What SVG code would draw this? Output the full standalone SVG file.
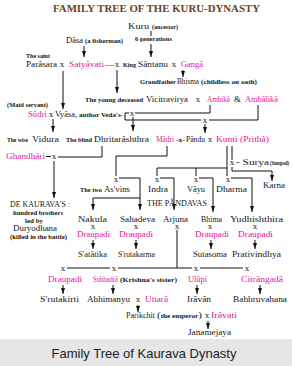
<svg xmlns="http://www.w3.org/2000/svg" width="292" height="366" viewBox="0 0 292 366">
<style>
text{font-family:"Liberation Serif","Times New Roman",serif;fill:#151515}
.n{font-size:9px}
.s{font-size:5.8px;font-weight:bold}
.p{fill:#e0169a}
.x{font-size:9px;text-anchor:middle}
.t{font-size:11px;font-weight:bold;fill:#6e3d1d}
.f{font-family:"Liberation Sans",Arial,sans-serif;font-size:13px;fill:#222;text-anchor:middle}
#edges line,#edges path{stroke:#111;stroke-width:1;fill:none}
.a{marker-end:url(#ah)}
</style>
<defs>
<marker id="ah" viewBox="0 0 6 4" refX="6" refY="2" markerWidth="6" markerHeight="4.5" markerUnits="userSpaceOnUse" orient="auto"><path d="M0,0L6,2L0,4z" fill="#111"/></marker>
</defs>
<rect width="292" height="366" fill="#fff"/>
<text class="t" x="53" y="12" textLength="207" lengthAdjust="spacingAndGlyphs">FAMILY TREE OF THE KURU-DYNASTY</text>

<g id="edges">
<line x1="151" y1="31" x2="151" y2="36"/>
<line class="a" x1="151" y1="44" x2="151" y2="57"/>
<line class="a" x1="84" y1="46" x2="84" y2="57"/>
<line class="a" x1="183" y1="70" x2="183" y2="77"/>
<line class="a" x1="117" y1="70" x2="117" y2="93"/>
<line class="a" x1="63" y1="71" x2="63" y2="109"/>
<path d="M210,105V113H135"/>
<path d="M129,113H125V120H201"/>
<path d="M209,120H258V105"/>
<line class="a" x1="133" y1="117" x2="133" y2="131"/>
<line class="a" x1="205" y1="124" x2="205" y2="133"/>
<line class="a" x1="53" y1="119" x2="53" y2="132"/>
<line x1="46" y1="156.5" x2="51" y2="156.5"/>
<path d="M58,157H102V146"/>
<line class="a" x1="54" y1="161" x2="54" y2="198"/>
<path d="M167,146V156H116V176"/>
<path d="M227,146V176"/>
<path d="M227,168H157V176"/>
<line x1="196" y1="168" x2="196" y2="176"/>
<line x1="232" y1="146" x2="232" y2="160"/>
<path class="a" d="M232,167V171H272V181"/>
<path class="a" d="M160,178H174V210"/>
<path class="a" d="M199,178H213V212"/>
<path class="a" d="M231,178H252V212"/>
<path class="a" d="M119,178H140V210"/>
<path class="a" d="M140,198H93V210"/>
<line class="a" x1="93" y1="240" x2="93" y2="249"/>
<line class="a" x1="136" y1="240" x2="136" y2="249"/>
<line class="a" x1="211" y1="240" x2="211" y2="249"/>
<line class="a" x1="255" y1="240" x2="255" y2="249"/>
<line x1="177" y1="230" x2="177" y2="268"/>
<path d="M67,268H110M118,268H192M200,268H243"/>
<line class="a" x1="63" y1="285" x2="63" y2="294"/>
<line class="a" x1="113" y1="285" x2="113" y2="294"/>
<line class="a" x1="197" y1="285" x2="197" y2="294"/>
<line class="a" x1="260" y1="285" x2="260" y2="294"/>
<line class="a" x1="138" y1="305" x2="138" y2="312"/>
<line class="a" x1="208" y1="321" x2="208" y2="329"/>
</g>

<g id="kuru"><text class="n" x="128" y="29" textLength="21" lengthAdjust="spacingAndGlyphs">Kuru</text><text class="s" x="152" y="29" textLength="26" lengthAdjust="spacingAndGlyphs">(ancestor)</text><text class="s" x="135" y="41" textLength="37" lengthAdjust="spacingAndGlyphs">6 generations</text></g>
<g id="dasa"><text class="n" x="66" y="43" textLength="17" lengthAdjust="spacingAndGlyphs">Dâsa</text><text class="s" x="85" y="43" textLength="38" lengthAdjust="spacingAndGlyphs">(a fisherman)</text></g>
<g id="parasara"><text class="s" x="26" y="58" textLength="24" lengthAdjust="spacingAndGlyphs">The saint</text><text class="n" x="26" y="67" textLength="31" lengthAdjust="spacingAndGlyphs">Parâsara</text><text class="x" x="62" y="67">x</text></g>
<g id="satyavati"><text class="n p" x="69" y="67" textLength="35" lengthAdjust="spacingAndGlyphs">Satyâvati</text><text class="s" x="105" y="67" textLength="9" lengthAdjust="spacingAndGlyphs">----</text><text class="x" x="117" y="67">x</text></g>
<g id="santanu"><text class="s" x="123" y="67" textLength="13" lengthAdjust="spacingAndGlyphs">King</text><text class="n" x="138" y="67" textLength="30" lengthAdjust="spacingAndGlyphs">Sântanu</text><text class="x" x="174" y="67">x</text></g>
<g id="ganga"><text class="n p" x="181" y="67" textLength="22" lengthAdjust="spacingAndGlyphs">Gangâ</text></g>
<g id="bhisma"><text class="s" x="140" y="84" textLength="36" lengthAdjust="spacingAndGlyphs">Grandfather</text><text class="n" x="177" y="84" textLength="22" lengthAdjust="spacingAndGlyphs">Bhisma</text><text class="s" x="201" y="84" textLength="56" lengthAdjust="spacingAndGlyphs">(childless on oath)</text></g>
<g id="vicitravirya"><text class="s" x="85" y="102" textLength="58" lengthAdjust="spacingAndGlyphs">The young deceased</text><text class="n" x="146" y="102" textLength="42" lengthAdjust="spacingAndGlyphs">Vicitravirya</text><text class="x" x="198" y="102">x</text></g>
<g id="ambika"><text class="n p" x="207" y="102" textLength="23" lengthAdjust="spacingAndGlyphs">Ambikâ</text><text class="n" x="234" y="102" font-size="7.5">&amp;</text></g>
<g id="ambalika"><text class="n p" x="245" y="102" textLength="33" lengthAdjust="spacingAndGlyphs">Ambâlikâ</text></g>
<g id="sudri"><text class="s" x="7" y="107" textLength="41" lengthAdjust="spacingAndGlyphs">(Maid servant)</text><text class="n p" x="28" y="117" textLength="19" lengthAdjust="spacingAndGlyphs">Sûdri</text><text class="x" x="51" y="117">x</text></g>
<g id="vyasa"><text class="n" x="55" y="117" textLength="22" lengthAdjust="spacingAndGlyphs">Vyâsa,</text><text class="s" x="79" y="117" textLength="44" lengthAdjust="spacingAndGlyphs">author Veda's-</text><text class="x" x="132" y="116">x</text><text class="x" x="205" y="123">x</text></g>
<g id="vidura"><text class="s" x="7" y="142" textLength="21" lengthAdjust="spacingAndGlyphs">The wise</text><text class="n" x="32" y="142" textLength="27" lengthAdjust="spacingAndGlyphs">Vidura</text></g>
<g id="dhritarashthra"><text class="s" x="66" y="142" textLength="26" lengthAdjust="spacingAndGlyphs">The blind</text><text class="n" x="94" y="142" textLength="55" lengthAdjust="spacingAndGlyphs">Dhritarâshthra</text></g>
<g id="madri"><text class="n p" x="156" y="142" textLength="18" lengthAdjust="spacingAndGlyphs">Mâdri</text><text class="s" x="176" y="142" textLength="9" lengthAdjust="spacingAndGlyphs">-x-</text></g>
<g id="pandu"><text class="n" x="186" y="142" textLength="19" lengthAdjust="spacingAndGlyphs">Pându</text><text class="x" x="210" y="142">x</text></g>
<g id="kunti"><text class="n p" x="216" y="142" textLength="53" lengthAdjust="spacingAndGlyphs">Kunti (Prithâ)</text></g>
<g id="ghandhari"><text class="n p" x="6" y="159" textLength="39" lengthAdjust="spacingAndGlyphs">Ghandhâri</text><text class="x" x="54" y="159">x</text></g>
<g id="surya"><text class="x" x="232" y="165">x</text><text class="n" x="236" y="165" textLength="33" lengthAdjust="spacingAndGlyphs">- Surya</text><text class="s" x="270" y="165" font-size="5" textLength="19" lengthAdjust="spacingAndGlyphs">(Sungod)</text></g>
<g id="karna"><text class="n" x="263" y="188" textLength="22" lengthAdjust="spacingAndGlyphs">Karna</text></g>
<g id="asvins"><text class="x" x="116" y="182">x</text><text class="s" x="80" y="192" textLength="22" lengthAdjust="spacingAndGlyphs">The two</text><text class="n" x="104" y="192" textLength="26" lengthAdjust="spacingAndGlyphs">As'vins</text></g>
<g id="indra"><text class="x" x="157" y="182">x</text><text class="n" x="148" y="192" textLength="20" lengthAdjust="spacingAndGlyphs">Indra</text></g>
<g id="vayu"><text class="x" x="196" y="182">x</text><text class="n" x="187" y="192" textLength="18" lengthAdjust="spacingAndGlyphs">Vâyu</text></g>
<g id="dharma"><text class="x" x="228" y="182">x</text><text class="n" x="216" y="192" textLength="31" lengthAdjust="spacingAndGlyphs">Dharma</text></g>
<g id="pandavas"><text class="n" x="147" y="206" textLength="60" lengthAdjust="spacingAndGlyphs">THE PÂNDAVAS</text></g>
<g id="kauravas"><text class="n" x="10" y="207" textLength="60" lengthAdjust="spacingAndGlyphs">DE KAURAVA'S :</text><text class="s" x="13" y="215" textLength="50" lengthAdjust="spacingAndGlyphs">hundred brothers</text><text class="s" x="25" y="223" textLength="18" lengthAdjust="spacingAndGlyphs">led by</text><text class="n" x="13" y="231" textLength="44" lengthAdjust="spacingAndGlyphs">Duryodhana</text><text class="s" x="10" y="239" textLength="57" lengthAdjust="spacingAndGlyphs">(killed in the battle)</text></g>
<g id="nakula"><text class="n" x="78" y="222" textLength="29" lengthAdjust="spacingAndGlyphs">Nakula</text><text class="x" x="93" y="229">x</text><text class="n p" x="77" y="237" textLength="33" lengthAdjust="spacingAndGlyphs">Draupadi</text></g>
<g id="sahadeva"><text class="n" x="120" y="222" textLength="35" lengthAdjust="spacingAndGlyphs">Sahadeva</text><text class="x" x="136" y="229">x</text><text class="n p" x="119" y="237" textLength="34" lengthAdjust="spacingAndGlyphs">Draupadi</text></g>
<g id="arjuna"><text class="n" x="163" y="222" textLength="25" lengthAdjust="spacingAndGlyphs">Arjuna</text><text class="x" x="177" y="229">x</text></g>
<g id="bhima"><text class="n" x="201" y="222" textLength="21" lengthAdjust="spacingAndGlyphs">Bhima</text><text class="x" x="210" y="229">x</text><text class="n p" x="195" y="237" textLength="34" lengthAdjust="spacingAndGlyphs">Draupadi</text></g>
<g id="yudhishthira"><text class="n" x="230" y="222" textLength="53" lengthAdjust="spacingAndGlyphs">Yudhishthira</text><text class="x" x="255" y="229">x</text><text class="n p" x="238" y="237" textLength="35" lengthAdjust="spacingAndGlyphs">Draupadi</text></g>
<g id="satatika"><text class="n" x="78" y="257" textLength="29" lengthAdjust="spacingAndGlyphs">S'atâtika</text></g>
<g id="srutakarma"><text class="n" x="118" y="257" textLength="37" lengthAdjust="spacingAndGlyphs">S'rutakarma</text></g>
<g id="sutasoma"><text class="n" x="193" y="257" textLength="34" lengthAdjust="spacingAndGlyphs">Sutasoma</text></g>
<g id="prativindhya"><text class="n" x="232" y="257" textLength="49" lengthAdjust="spacingAndGlyphs">Prativindhya</text></g>
<g id="arjuna-wives"><text class="x" x="63" y="270.5">x</text><text class="x" x="114" y="270.5">x</text><text class="x" x="196" y="270.5">x</text><text class="x" x="247" y="270.5">x</text></g>
<g id="draupadi"><text class="n p" x="48" y="282" textLength="34" lengthAdjust="spacingAndGlyphs">Draupadi</text></g>
<g id="subhadra"><text class="n p" x="93" y="282" textLength="25" lengthAdjust="spacingAndGlyphs">Subhadrâ</text><text class="s" x="120" y="282" textLength="57" lengthAdjust="spacingAndGlyphs">(Krishna's sister)</text></g>
<g id="ulupi"><text class="n p" x="188" y="282" textLength="19" lengthAdjust="spacingAndGlyphs">Ulûpi</text></g>
<g id="citrangada"><text class="n p" x="241" y="282" textLength="42" lengthAdjust="spacingAndGlyphs">Citrângadâ</text></g>
<g id="srutakirti"><text class="n" x="40" y="302" textLength="39" lengthAdjust="spacingAndGlyphs">S'rutakirti</text></g>
<g id="abhimanyu"><text class="n" x="87" y="302" textLength="43" lengthAdjust="spacingAndGlyphs">Abhimanyu</text><text class="x" x="138" y="302">x</text></g>
<g id="uttara"><text class="n p" x="145" y="302" textLength="23" lengthAdjust="spacingAndGlyphs">Uttarâ</text></g>
<g id="iravan"><text class="n" x="187" y="302" textLength="24" lengthAdjust="spacingAndGlyphs">Irâvân</text></g>
<g id="babhruvahana"><text class="n" x="233" y="302" textLength="54" lengthAdjust="spacingAndGlyphs">Babhruvahana</text></g>
<g id="parikchit"><text class="n" x="126" y="318" textLength="29" lengthAdjust="spacingAndGlyphs">Parikchit</text><text class="n" x="157" y="318" textLength="45" lengthAdjust="spacingAndGlyphs">(<tspan class="s">the emperor</tspan>)</text><text class="x" x="207" y="318">x</text></g>
<g id="iravati"><text class="n p" x="211" y="318" textLength="26" lengthAdjust="spacingAndGlyphs">Irâvati</text></g>
<g id="janamejaya"><text class="n" x="188" y="335" font-size="7.5" textLength="43" lengthAdjust="spacingAndGlyphs">Janamejaya</text></g>

<rect x="0" y="339" width="292" height="27" fill="#e6e6e6"/>
<text class="f" x="144" y="358">Family Tree of Kaurava Dynasty</text>
</svg>
